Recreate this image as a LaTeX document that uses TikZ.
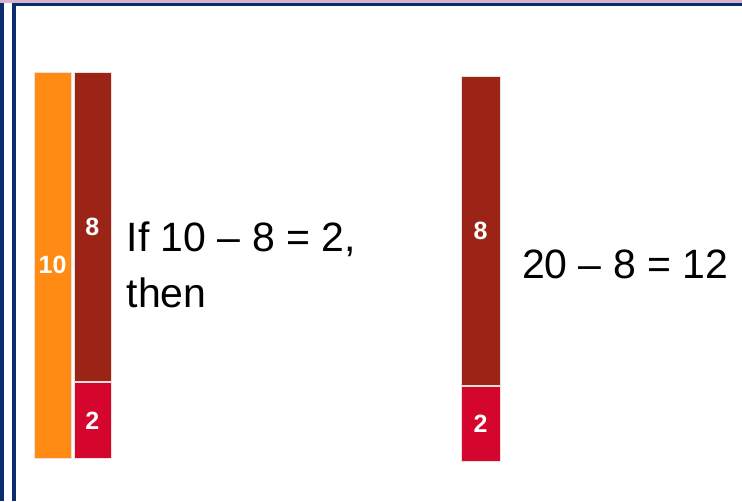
\documentclass[tikz,border=0pt]{standalone}
\usepackage{fontspec}
\setmainfont{Liberation Sans}
\usetikzlibrary{positioning}
\definecolor{barorange}{HTML}{FF8A14}
\definecolor{bardark}{HTML}{9C2416}
\definecolor{barred}{HTML}{D4062E}
\definecolor{framenavy}{HTML}{0C2C6E}
\definecolor{framepink}{HTML}{D8B4CC}

\begin{document}
\begin{tikzpicture}[x=1pt, y=-1pt,
	   bar/.style={draw=white!85!bardark, line width=0.8pt, inner sep=0pt, text=white,
	     font=\fontsize{25}{30}\selectfont\bfseries},
	   sum/.style={inner sep=0pt, align=left, font=\fontsize{41}{56}\selectfont}]
	  \useasboundingbox (0,0) rectangle (742,501);
	  % frame
	  \fill[framepink] (0,0) rectangle (742,3);
	  \fill[framenavy] (12,3) rectangle (742,6.2);
	  \fill[framenavy] (0.3,3) rectangle (4,501);
	  \fill[framenavy] (11.8,3) rectangle (15.5,501);
	  % first model: 10 = 8 + 2
	  \node[bar, fill=barorange, minimum width=36.5pt, minimum height=385.5pt, anchor=north west] (ten) at (34,72) {10};
	  \node[bar, fill=bardark, minimum width=37pt, minimum height=309pt, anchor=north west] (eight) at (73.5,72) {8};
	  \node[bar, fill=barred, minimum width=37pt, minimum height=76.5pt, below=0pt of eight] (two) {2};
	  \node[sum, anchor=base west] (iftext) at (126.5,307) {If 10 – 8 = 2,\\then};
	  % second model
	  \node[bar, fill=bardark, minimum width=38.5pt, minimum height=309.5pt, anchor=north west] (eightR) at (461,75.5) {8};
	  \node[bar, fill=barred, minimum width=38.5pt, minimum height=75.5pt, below=0pt of eightR] (twoR) {2};
	  \node[sum, anchor=base west] (result) at (521.8,278) {20 – 8 = 12};
	\end{tikzpicture}
\end{document}
